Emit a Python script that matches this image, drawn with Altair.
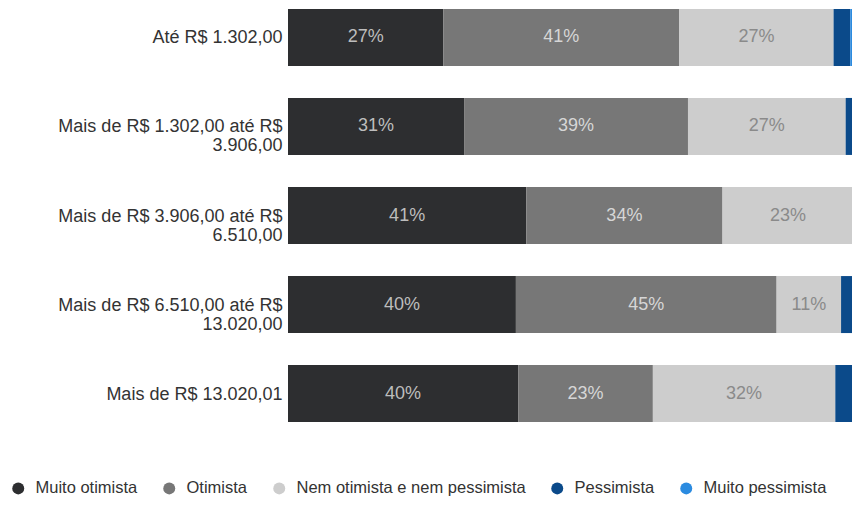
import altair as alt
import pandas as pd

categories = [
    "Até R$ 1.302,00",
    "Mais de R$ 1.302,00 até R$ 3.906,00",
    "Mais de R$ 3.906,00 até R$ 6.510,00",
    "Mais de R$ 6.510,00 até R$ 13.020,00",
    "Mais de R$ 13.020,01",
]
series = ["Muito otimista", "Otimista", "Nem otimista e nem pessimista", "Pessimista", "Muito pessimista"]
colors = ["#2d2e30", "#777777", "#cdcdcd", "#0b4a8a", "#2b8be0"]
label_colors = ["#bdbdbd", "#d6d6d6", "#8a8a8a", "#ffffff", "#ffffff"]

muito_otimista = [27.0, 30.6, 41.4, 39.6, 40.0]
otimista = [41.0, 38.9, 34.1, 45.3, 23.4]
nem = [26.8, 27.4, 22.8, 11.2, 31.7]
pessimista = [2.9, 2.5, 1.2, 1.9, 3.3]
muito_pessimista = [2.3, 0.6, 0.5, 2.0, 1.6]

values = [muito_otimista, otimista, nem, pessimista, muito_pessimista]
rows = []
for i, c in enumerate(categories):
    for j, s in enumerate(series):
        rows.append({"cat": c, "serie": s, "ord": j, "v": values[j][i], "tc": label_colors[j]})
df = pd.DataFrame(rows)

base = alt.Chart(df).transform_stack(
    stack="v", groupby=["cat"], as_=["x0", "x1"],
    sort=[alt.SortField("ord", order="ascending")],
).transform_calculate(mid="(datum.x0 + datum.x1) / 2", lab="format(datum.v, '.0f') + '%'")

label_expr = (
    "indexof(datum.label, ' até R$ ') > 0 ? "
    "[slice(datum.label, 0, indexof(datum.label, ' até R$ ') + 7), "
    "slice(datum.label, indexof(datum.label, ' até R$ ') + 8)] : datum.label"
)

y = alt.Y(
    "cat:N", sort=categories, title=None,
    scale=alt.Scale(paddingInner=0.36, paddingOuter=0.01),
    axis=alt.Axis(
        domain=False, ticks=False, labelFont="Liberation Sans", labelFontSize=18,
        labelColor="#333333", labelPadding=6, labelLimit=400, labelExpr=label_expr,
        labelLineHeight=19, labelOffset=1, labelBaseline="middle",
    ),
)
xscale = alt.Scale(domain=[0, 98], nice=False, zero=True)

bars = base.mark_bar(clip=True).encode(
    x=alt.X("x0:Q", scale=xscale, axis=None),
    x2="x1:Q",
    y=y,
    color=alt.Color(
        "serie:N", scale=alt.Scale(domain=series, range=colors),
        legend=alt.Legend(
            title=None, orient="none", legendX=-278, legendY=472, direction="horizontal",
            symbolType="circle", symbolSize=144, symbolStrokeWidth=0,
            labelFont="Liberation Sans", labelFontSize=16.5, labelColor="#333333",
            labelOffset=9, columnPadding=23, labelLimit=400,
        ),
    ),
)

labels = base.transform_filter("datum.v >= 5").mark_text(
    font="Liberation Sans", fontSize=18, baseline="middle", align="center",
).encode(
    x=alt.X("mid:Q", scale=xscale, axis=None),
    y=alt.Y("cat:N", sort=categories),
    text="lab:N",
    color=alt.Color("tc:N", scale=None),
)

chart = alt.layer(bars, labels).resolve_scale(color="independent").properties(
    width=564, height=415,
    padding={"left": 280, "top": 0, "right": 0, "bottom": 74},
    autosize=alt.AutoSizeParams(type="none"),
).configure_view(stroke=None)

chart.save("out.html", embed_options={"renderer": "svg", "actions": False})
